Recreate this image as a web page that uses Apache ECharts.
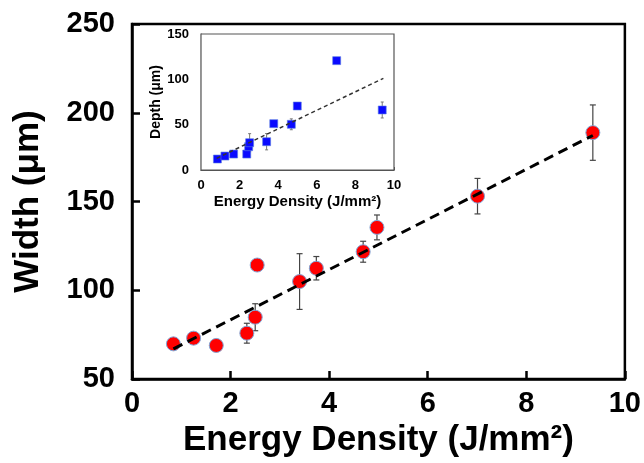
<!DOCTYPE html>
<html>
<head>
<meta charset="utf-8">
<script src="https://cdn.jsdelivr.net/npm/echarts@6/dist/echarts.min.js"></script>
<style>
  html, body { margin: 0; padding: 0; background: #fff; }
  #chart { width: 644px; height: 463px; }
</style>
</head>
<body>
<div id="chart"></div>
<script>
// Width of the processed track vs. laser energy density
const widthEnergy = [0.84, 1.25, 1.71, 2.33, 2.50, 2.54, 3.40, 3.74, 4.69, 4.97, 7.01, 9.35];
const widthValues = [69.8, 73.0, 68.9, 75.8, 84.8, 114.2, 104.9, 112.4, 121.7, 135.4, 153.0, 188.8];
const widthErrors = [0, 0, 0, 5.6, 7.6, 0, 15.7, 6.6, 5.9, 7.0, 10.0, 15.6];
const widthTrend = [[0.84, 67.0], [9.35, 187.2]];

// Depth (inset) vs. laser energy density
const depthEnergy = [0.85, 1.24, 1.69, 2.37, 2.47, 2.52, 3.40, 3.77, 4.68, 4.99, 7.03, 9.39];
const depthValues = [12.1, 15.4, 17.6, 17.6, 25.7, 30.1, 31.2, 51.1, 50.4, 70.6, 120.6, 66.2];
const depthErrors = [0, 0, 0, 0, 0, 10, 9, 0, 6, 0, 0, 8.8];
const depthTrend = [[0.81, 12.9], [9.45, 101.1]];

const xTicksMain = [0, 10, 2];     // min, max, interval
const yTicksMain = [50, 250, 50];
const xTicksInset = [0, 10, 2];
const yTicksInset = [0, 150, 50];

const FONT = 'Liberation Sans, Arial, sans-serif';

function pairs(xs, ys) { return xs.map((x, i) => [x, ys[i]]); }
function errTriples(xs, ys, es) {
  return xs.map((x, i) => [x, ys[i] - es[i], ys[i] + es[i]]).filter((d, i) => es[i] > 0);
}

function errorBarSeries(xi, yi, data, color, lw, cap, z) {
  return {
    type: 'custom',
    xAxisIndex: xi, yAxisIndex: yi, z: z,
    silent: true,
    data: data,
    renderItem: function (params, api) {
      const lo = api.coord([api.value(0), api.value(1)]);
      const hi = api.coord([api.value(0), api.value(2)]);
      const st = { stroke: color, lineWidth: lw };
      return {
        type: 'group',
        children: [
          { type: 'line', shape: { x1: lo[0], y1: lo[1], x2: hi[0], y2: hi[1] }, style: st },
          { type: 'line', shape: { x1: lo[0] - cap, y1: lo[1], x2: lo[0] + cap, y2: lo[1] }, style: st },
          { type: 'line', shape: { x1: hi[0] - cap, y1: hi[1], x2: hi[0] + cap, y2: hi[1] }, style: st }
        ]
      };
    }
  };
}

const chart = echarts.init(document.getElementById('chart'), null, { renderer: 'canvas' });

chart.setOption({
  backgroundColor: '#ffffff',
  animation: false,
  grid: [
    { left: 132, right: 19, top: 24, bottom: 82, show: true, borderColor: '#000', borderWidth: 2.5, backgroundColor: 'transparent', z: 0 },
    { left: 201, top: 34, width: 193, height: 136, show: true, borderColor: '#555', borderWidth: 1.2, backgroundColor: '#fff', z: 5 }
  ],
  xAxis: [
    {
      gridIndex: 0, type: 'value', min: xTicksMain[0], max: xTicksMain[1], interval: xTicksMain[2],
      name: 'Energy Density (J/mm²)', nameLocation: 'middle', nameGap: 44,
      nameTextStyle: { fontFamily: FONT, fontWeight: 'bold', fontSize: 35, color: '#000' },
      axisLine: { show: true, onZero: false, lineStyle: { color: '#000', width: 2.5 } },
      axisTick: { show: true, inside: true, length: 8, lineStyle: { color: '#000', width: 2.5 } },
      axisLabel: { fontFamily: FONT, fontWeight: 'bold', fontSize: 29, color: '#000', margin: 10 },
      splitLine: { show: false }
    },
    {
      gridIndex: 1, type: 'value', min: xTicksInset[0], max: xTicksInset[1], interval: xTicksInset[2],
      name: 'Energy Density (J/mm²)', nameLocation: 'middle', nameGap: 24,
      nameTextStyle: { fontFamily: FONT, fontWeight: 'bold', fontSize: 15, color: '#000' },
      axisLine: { show: true, onZero: false, lineStyle: { color: '#555', width: 1.2 } },
      axisTick: { show: true, inside: true, length: 3, lineStyle: { color: '#555', width: 1 } },
      axisLabel: { fontFamily: FONT, fontWeight: 'bold', fontSize: 13, color: '#000', margin: 9 },
      splitLine: { show: false }
    }
  ],
  yAxis: [
    {
      gridIndex: 0, type: 'value', min: yTicksMain[0], max: yTicksMain[1], interval: yTicksMain[2],
      name: 'Width (μm)', nameLocation: 'middle', nameGap: 86,
      nameTextStyle: { fontFamily: FONT, fontWeight: 'bold', fontSize: 35, color: '#000' },
      axisLine: { show: true, onZero: false, lineStyle: { color: '#000', width: 2.5 } },
      axisTick: { show: true, inside: true, length: 8, lineStyle: { color: '#000', width: 2.5 } },
      axisLabel: { fontFamily: FONT, fontWeight: 'bold', fontSize: 29, color: '#000', margin: 17 },
      splitLine: { show: false }
    },
    {
      gridIndex: 1, type: 'value', min: yTicksInset[0], max: yTicksInset[1], interval: yTicksInset[2],
      name: 'Depth (μm)', nameLocation: 'middle', nameGap: 36,
      nameTextStyle: { fontFamily: FONT, fontWeight: 'bold', fontSize: 14, color: '#000' },
      axisLine: { show: true, onZero: false, lineStyle: { color: '#555', width: 1.2 } },
      axisTick: { show: true, inside: true, length: 3, lineStyle: { color: '#555', width: 1 } },
      axisLabel: { fontFamily: FONT, fontWeight: 'bold', fontSize: 13, color: '#000', margin: 12 },
      splitLine: { show: false }
    }
  ],
  series: [
    errorBarSeries(0, 0, errTriples(widthEnergy, widthValues, widthErrors), '#444', 1.2, 3, 2),
    {
      type: 'scatter', xAxisIndex: 0, yAxisIndex: 0, z: 3,
      data: pairs(widthEnergy, widthValues),
      symbol: 'circle', symbolSize: 14,
      itemStyle: { color: '#ff0000', borderColor: '#7fa7d8', borderWidth: 1, opacity: 1 }
    },
    {
      type: 'line', xAxisIndex: 0, yAxisIndex: 0, z: 4,
      data: widthTrend, symbol: 'none', silent: true,
      lineStyle: { color: '#000', width: 3, type: [10, 6] }
    },
    errorBarSeries(1, 1, errTriples(depthEnergy, depthValues, depthErrors), '#777', 1, 1.5, 6),
    {
      type: 'scatter', xAxisIndex: 1, yAxisIndex: 1, z: 7,
      data: pairs(depthEnergy, depthValues),
      symbol: 'rect', symbolSize: 8,
      itemStyle: { color: '#0a0aff', borderColor: '#5c7fe0', borderWidth: 0.6, opacity: 1 }
    },
    {
      type: 'line', xAxisIndex: 1, yAxisIndex: 1, z: 8,
      data: depthTrend, symbol: 'none', silent: true,
      lineStyle: { color: '#333', width: 1.5, type: [4, 3] }
    }
  ]
});
</script>
</body>
</html>
